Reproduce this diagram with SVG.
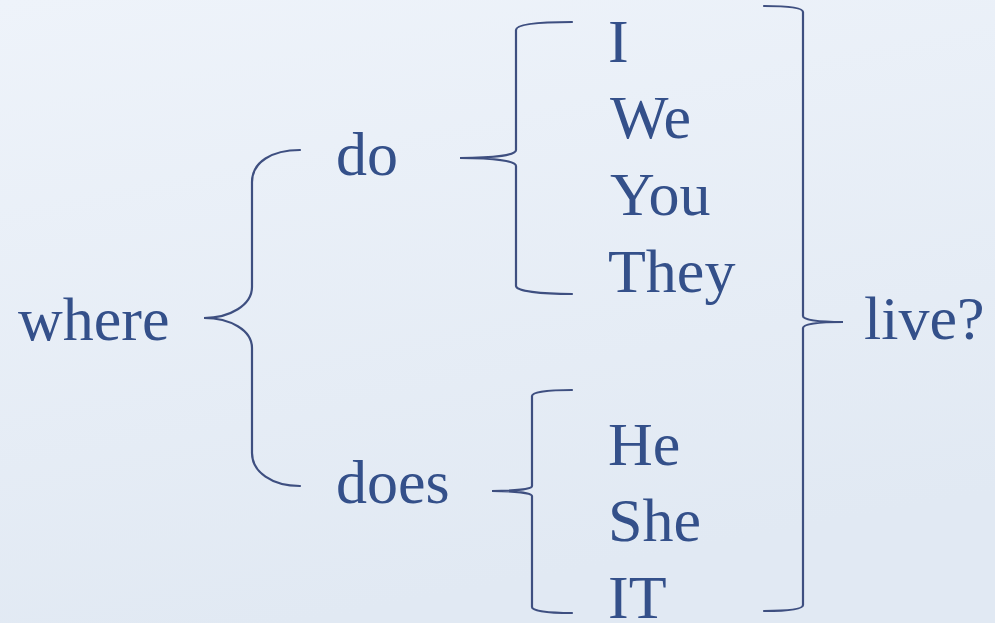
<svg xmlns="http://www.w3.org/2000/svg" width="995" height="623" viewBox="0 0 995 623">
<defs>
<linearGradient id="bg" x1="0" y1="0" x2="0.3" y2="1">
<stop offset="0" stop-color="#eef3fa"/>
<stop offset="1" stop-color="#e1e9f3"/>
</linearGradient>
<style>
.t{font-size:62px;fill:#34508a}
.b{fill:none;stroke:#3e4f80;stroke-width:2.2;stroke-linecap:round}
</style>
</defs>
<rect width="995" height="623" fill="url(#bg)"/>
<g id="connectors">
<path class="b" d="M300,150 C272,150 252,162 252,182 L252,287 C252,305 230,318 204,318 C230,318 252,330 252,348 L252,453 C252,472 272,486 300,486"/>
<path class="b" d="M572,22 C540,22 516,24 516,30 L516,150 C516,155 495,158 460,158 C495,158 516,161 516,166 L516,286 C516,291 540,294 572,294"/>
<path class="b" d="M572,390 C548,390 532,392 532,396 L532,486 C532,489 515,491 492,491 C515,491 532,493 532,496 L532,607 C532,611 548,613 572,613"/>
<path class="b" d="M764,6 C790,6 803,8 803,12 L803,316 C803,320 818,322 843,322 C818,322 803,324 803,328 L803,605 C803,609 790,611 764,611"/>
</g>
<g font-family="Liberation Serif, Times New Roman, serif">
<g id="where"><text class="t" x="18" y="340">where</text></g>
<g id="do"><text class="t" x="336" y="175">do</text></g>
<g id="does"><text class="t" x="336" y="503">does</text></g>
<g id="I"><text class="t" x="608" y="62">I</text></g>
<g id="We"><text class="t" x="610" y="138">We</text></g>
<g id="You"><text class="t" x="610" y="215">You</text></g>
<g id="They"><text class="t" x="608" y="292">They</text></g>
<g id="He"><text class="t" x="608" y="465">He</text></g>
<g id="She"><text class="t" x="608" y="541">She</text></g>
<g id="IT"><text class="t" x="608" y="618">IT</text></g>
<g id="live"><text class="t" x="864" y="339">live?</text></g>
</g>
</svg>
